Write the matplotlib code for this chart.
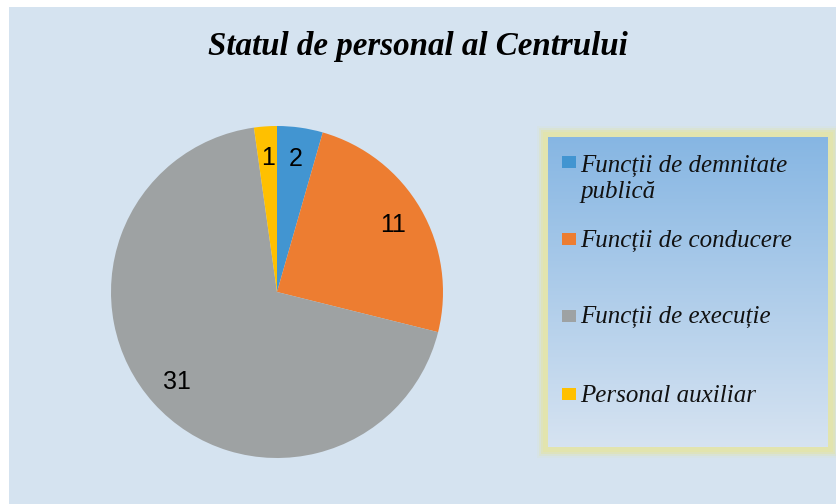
import numpy as np
import matplotlib.pyplot as plt
from matplotlib.patches import Rectangle
from matplotlib.colors import LinearSegmentedColormap

# date
categorii = ['Funcții de demnitate\npublică', 'Funcții de conducere',
             'Funcții de execuție', 'Personal auxiliar']
valori = [2, 11, 31, 1]
culori = ['#4295D1', '#ED7D31', '#9EA2A3', '#FFC000']
titlu = 'Statul de personal al Centrului'

W, H = 837, 504
fig = plt.figure(figsize=(W / 100, H / 100), dpi=100)
fig.patch.set_facecolor('white')


def fx(x):
    return x / W


def fy(y):
    return 1 - y / H


# fundal albastru deschis
fig.add_artist(Rectangle((fx(9), 0), 1 - fx(9), fy(7), transform=fig.transFigure,
                         facecolor='#D5E3F0', edgecolor='none', zorder=-2))

# titlul
fig.text(fx(417.5), fy(55), titlu, ha='center', va='baseline',
         fontfamily='Liberation Serif', fontweight='bold', fontstyle='italic',
         fontsize=23.8, color='black')

# pie
cx, cy, r = 277, 292, 166
ax = fig.add_axes([fx(cx - r), fy(cy + r), 2 * r / W, 2 * r / H])
total = sum(valori)
wedges, _, etichete = ax.pie(valori, colors=culori, startangle=90, counterclock=False,
                             autopct=lambda p: '%d' % round(p * total / 100),
                             pctdistance=0.81, radius=1,
                             wedgeprops=dict(linewidth=0),
                             textprops=dict(fontsize=18, fontfamily='Liberation Sans',
                                            color='black'))
ax.set_xlim(-1, 1)
ax.set_ylim(-1, 1)

# legenda - chenar cu stralucire galbena
x0, y0, x1, y1 = 548, 137, 828, 447
for pad, a in [(11, 0.12), (9, 0.3), (7, 0.6), (5, 1.0)]:
    fig.add_artist(Rectangle((fx(x0 - pad), fy(y1 + pad)),
                             (x1 - x0 + 2 * pad) / W, (y1 - y0 + 2 * pad) / H,
                             transform=fig.transFigure, facecolor='#E2E4AE',
                             edgecolor='none', alpha=a, zorder=-1))

lax = fig.add_axes([fx(x0), fy(y1), (x1 - x0) / W, (y1 - y0) / H])
grad = np.linspace(0, 1, 256).reshape(-1, 1)
cmap = LinearSegmentedColormap.from_list('leg', ['#86B6E3', '#D6E3F1'])
lax.imshow(grad, aspect='auto', cmap=cmap, extent=(0, 1, 0, 1), origin='upper')
lax.axis('off')

marc_y = [162, 239, 316, 394]
text_y = [172, 247, 323, 402]
for lab, c, my, ty in zip(categorii, culori, marc_y, text_y):
    fig.add_artist(Rectangle((fx(562), fy(my + 6)), 14 / W, 12 / H,
                             transform=fig.transFigure, facecolor=c,
                             edgecolor='none', zorder=3))
    for i, rand in enumerate(lab.split('\n')):
        fig.text(fx(580), fy(ty + 26 * i), rand, ha='left', va='baseline',
                 fontfamily='Liberation Serif', fontstyle='italic', fontsize=18,
                 color='#111111', zorder=4)

fig.savefig('out.png', dpi=100)
